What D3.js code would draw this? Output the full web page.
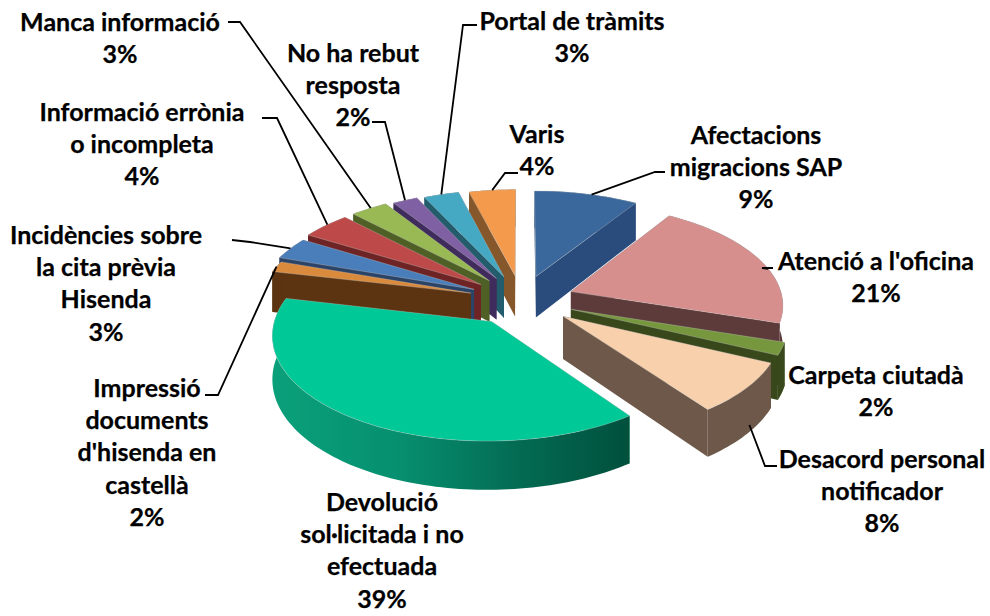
<!DOCTYPE html>
<html><head><meta charset="utf-8">
<script src="https://cdnjs.cloudflare.com/ajax/libs/d3/7.8.5/d3.min.js"></script>
<style>html,body{margin:0;padding:0;background:#fff}text{font-family:Lato,'Noto Sans',sans-serif;font-weight:700;fill:#000;font-size:25px;text-anchor:middle;stroke:#000;stroke-width:.25px}</style>
</head><body><svg id="c" width="990" height="616"></svg>
<script>
const categories=["Afectacions migracions SAP","Atenció a l'oficina","Carpeta ciutadà","Desacord personal notificador","Devolució sol·licitada i no efectuada","Impressió documents d'hisenda en castellà","Incidències sobre la cita prèvia Hisenda","Informació errònia o incompleta","Manca informació","No ha rebut resposta","Portal de tràmits","Varis"];
const values=[9,21,2,8,38.6,1.7,3.4,4.1,3.1,2.1,3,4];
const topColors=["#3a689c","#d78f8d","#76973d","#f8d1ac","#00c896","#da8a3c","#4a7ebb","#bd4a48","#98b954","#7f60a3","#46a9c4","#f39a4c"];
const wallColors=["#2a4c7c","#5d3b3b","#38481a","#6d5849","#0a9a75","#5c3411","#2b4366","#6e2424","#4e6026","#3f2b5c","#235d6d","#85572a"];
const labelLines=[["Afectacions","migracions SAP"],["Atenció a l'oficina"],["Carpeta ciutadà"],["Desacord personal","notificador"],["Devolució","sol·licitada i no","efectuada"],["Impressió","documents","d'hisenda en","castellà"],["Incidències sobre","la cita prèvia","Hisenda"],["Informació errònia","o incompleta"],["Manca informació"],["No ha rebut","resposta"],["Portal de tràmits"],["Varis"]];
// label anchor: centre x, first baseline
const labelAnchors=[[756,144],[876,270],[876,384],[882,468],[382,511],[147,397],[106,244],[142,121],[120,31],[353,62],[572,30],[537,143]];
// leader elbows (start, knee); last point is taken from the slice rim
const leaderElbows=[[[665,172],[655,172]],[[773,268],[762,268]],null,[[777,466],[765,466]],null,[[205,395],[218,395]],[[232,240],[250,242]],[[262,118],[277,118]],[[228,22],[240,22]],[[372,122],[385,122]],[[477,25],[463,25]],[[518,173],[505,173]]];
const leaderAngle=[.55,.58,0,.45,0,.5,.5,.55,.55,.5,.5,.5];
const leaderDrop=[0,0,0,.85,0,0,0,0,0,0,0,0];
const radiusScale=[1,1,1,1,1,1,1.03,1.045,1.045,1.03,1.02,1.01];
const explode=.25,persp=.115,depth=42;
const xS=d3.scaleLinear().domain([-1,1]).range([521.5-212,521.5+212]);
const yS=d3.scaleLinear().domain([-1,1]).range([300-100.5,300+100.5]);
function proj(X,Y,z){const s=1/(1-persp*Y);return [xS(X*s),yS(Y*s)+z*depth*s];}
const pie=d3.pie().sort(null).value(d=>d)(values);
const slices=pie.map((p,i)=>{const mid=(p.startAngle+p.endAngle)/2;return {i,a0:p.startAngle,a1:p.endAngle,mid,ex:explode*Math.sin(mid),ey:-explode*Math.cos(mid)};});
const pt=(s,r,a,z)=>{const R=r*radiusScale[s.i];return proj(s.ex+R*Math.sin(a),s.ey-R*Math.cos(a),z);};
const line=d3.line();
const svg=d3.select("#c");
const defs=svg.append("defs");
const grad=defs.append("linearGradient").attr("id","frontWall").attr("gradientUnits","objectBoundingBox");
grad.selectAll("stop").data([[0,"#0aa07a"],[.35,"#069070"],[.7,"#036a52"],[1,"#00503c"]]).join("stop").attr("offset",d=>d[0]).attr("stop-color",d=>d[1]);
const arcPts=(s,z,rev)=>{const n=Math.max(6,Math.ceil((s.a1-s.a0)*40));const a=d3.range(n+1).map(k=>s.a0+(s.a1-s.a0)*k/n);if(rev)a.reverse();return a.map(t=>pt(s,1,t,z));};
const order=slices.slice().sort((a,b)=>a.ey-b.ey);
const g=svg.selectAll("g.slice").data(order).join("g").attr("class","slice");
g.each(function(s){
  const el=d3.select(this);
  const radial=a=>[pt(s,0,a,0),pt(s,1,a,0),pt(s,1,a,1),pt(s,0,a,1)];
  el.append("path").attr("d",line(radial(s.a0))+"Z").attr("fill",wallColors[s.i]);
  el.append("path").attr("d",line(radial(s.a1))+"Z").attr("fill",wallColors[s.i]);
  el.append("path").attr("d",line(arcPts(s,0).concat(arcPts(s,1,true)))+"Z").attr("fill",s.i===4?"url(#frontWall)":wallColors[s.i]);
  el.append("path").attr("d",line([pt(s,0,s.a0,0)].concat(arcPts(s,0)))+"Z").attr("fill",topColors[s.i]).attr("stroke","rgba(200,200,200,.45)").attr("stroke-width",.8);
});
const lg=svg.append("g");
slices.forEach(s=>{
  const e=leaderElbows[s.i]; if(!e) return;
  const rim=pt(s,1,s.a0+(s.a1-s.a0)*leaderAngle[s.i],leaderDrop[s.i]);
  lg.append("path").attr("d",line([e[0],e[1],rim])).attr("fill","none").attr("stroke","#000").attr("stroke-width",1.8);
});
const tg=svg.append("g");
slices.forEach(s=>{
  const [x,y]=labelAnchors[s.i];
  const t=tg.append("text").attr("x",x).attr("y",y);
  labelLines[s.i].concat([Math.round(values[s.i])+"%"]).forEach((l,k)=>t.append("tspan").attr("x",x).attr("y",y+k*32.2).text(l));
});
</script></body></html>
